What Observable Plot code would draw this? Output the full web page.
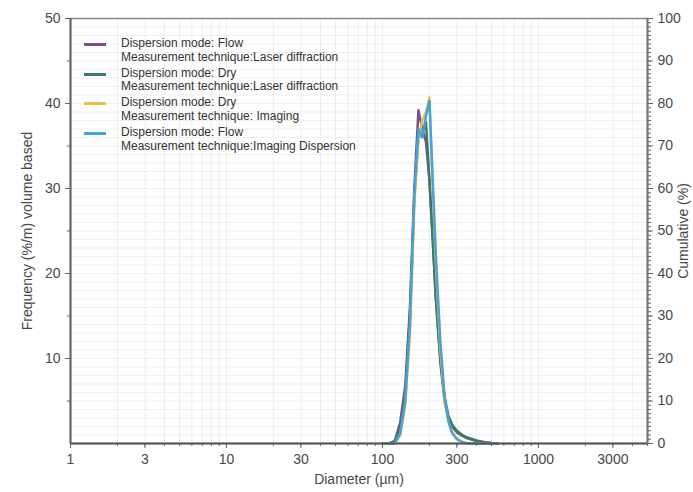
<!DOCTYPE html>
<html><head><meta charset="utf-8">
<script src="https://cdn.jsdelivr.net/npm/d3@7"></script>
<script src="https://cdn.jsdelivr.net/npm/@observablehq/plot@0.6"></script>
<style>
body{margin:0;background:#fff;font-family:"Liberation Sans",Arial,sans-serif;}
#wrap{position:relative;width:693px;height:492px;overflow:hidden}
#legend{position:absolute;left:84px;top:37px;font-size:12px;color:#333;line-height:13.8px}
.item{display:flex;align-items:flex-start;margin-bottom:2px}
.sw{width:22px;height:3px;margin-top:6px;margin-right:15px;flex:none}
</style></head><body><div id="wrap"><div id="legend"></div></div>
<script>
// ---- data ----
const diameters = [100,110,120,130,140,150,160,170,180,190,200,210,220,235,250,265,280,300,325,350,400,450,500,550];
const seriesNames = [
  ["Dispersion mode: Flow","Measurement technique:Laser diffraction"],
  ["Dispersion mode: Dry","Measurement technique:Laser diffraction"],
  ["Dispersion mode: Dry","Measurement technique: Imaging"],
  ["Dispersion mode: Flow","Measurement technique:Imaging Dispersion"]
];
const seriesColors = ["#7b4f86","#3e7868","#e6c24a","#46a3d6"];
const flowLaser   = [0,0,0.3,2.5,6.8,16,30,39.2,37,35.5,31,24,17,9.5,5,2.8,2,1.3,0.9,0.6,0.3,0.15,0.05,0];
const dryLaser    = [0,0,0.1,1.8,5.8,15,29,36,36.5,37.8,31,24,17,10,5.5,3.2,2.2,1.5,1,0.7,0.35,0.15,0.05,0];
const dryImaging  = [0,0,0,1,4.5,13,28,36,38,39,40.7,30,21,11,5,2.5,1.3,0.6,0.2,0,0,0,0,0];
const flowImaging = [0,0,0,1.2,5,14,29,37,36,38.5,40.3,31,22,12,5.5,2.6,1.2,0.5,0.15,0,0,0,0,0];
const xTickValues = [1,3,10,30,100,300,1000,3000];
const yTickValues = [10,20,30,40,50];
const cumTickValues = [0,10,20,30,40,50,60,70,80,90,100];

const allSeries = [flowLaser, dryLaser, dryImaging, flowImaging];
const rows = [];
allSeries.forEach((vals, si) => vals.forEach((v, i) => rows.push({d: diameters[i], f: v, s: si})));

const minorX = [];
for (let e = 0; e <= 3; e++) for (let k = 1; k <= 9; k++) { const v = k * 10 ** e; if (v <= 5000) minorX.push(v); }
minorX.push(5000);
const hGrid = d3.range(0, 50.01, 1);
const cumMinor = d3.range(0, 50.01, 0.5);

const axisColor = "#666";
const plot = Plot.plot({
  width: 693, height: 492,
  marginLeft: 70, marginRight: 46, marginTop: 18, marginBottom: 49,
  style: {fontFamily: "Liberation Sans, Arial, sans-serif", fontSize: "14px", color: "#484848", background: "#fff"},
  x: {type: "log", domain: [1, 5000]},
  y: {domain: [0, 50]},
  marks: [
    Plot.ruleY(hGrid, {stroke: "#efefef", strokeWidth: 1}),
    Plot.ruleX(minorX, {stroke: "#efefef", strokeWidth: 1}),
    Plot.frame({stroke: "#888", strokeWidth: 1.5}),
    Plot.line(rows, {x: "d", y: "f", z: "s", stroke: d => seriesColors[d.s], strokeWidth: 2.5, curve: "linear"}),
    Plot.axisX({ticks: xTickValues, tickFormat: d => String(d), tickSize: 5, stroke: axisColor, label: "Diameter (µm)", labelAnchor: "center", labelArrow: false, labelOffset: 40, tickPadding: 6}),
    Plot.axisX({ticks: minorX, tickFormat: () => "", tickSize: 3, stroke: axisColor, label: null}),
    Plot.ruleY([0], {stroke: "#555", strokeWidth: 2}),
    Plot.axisY({ticks: yTickValues, tickSize: 5, stroke: axisColor, label: "Frequency (%/m) volume based", labelAnchor: "center", labelArrow: false, labelOffset: 48, tickPadding: 5}),
    Plot.axisY({ticks: [5,15,25,35,45], tickFormat: () => "", tickSize: 3, stroke: axisColor, label: null}),
    Plot.axisY({anchor: "right", ticks: cumTickValues.map(v => v / 2), tickFormat: d => String(d * 2), tickSize: 5, stroke: axisColor, label: "Cumulative (%)", labelAnchor: "center", labelArrow: false, labelOffset: 40, tickPadding: 5}),
    Plot.axisY({anchor: "right", ticks: cumMinor, tickFormat: () => "", tickSize: 3, stroke: axisColor, label: null}),
    Plot.ruleX([1], {stroke: "#666", strokeWidth: 2}),
    Plot.ruleX([5000], {stroke: "#777", strokeWidth: 2})
  ]
});
document.getElementById("wrap").prepend(plot);

const leg = document.getElementById("legend");
seriesNames.forEach((lines, i) => {
  const it = document.createElement("div"); it.className = "item";
  const sw = document.createElement("div"); sw.className = "sw"; sw.style.background = seriesColors[i];
  const tx = document.createElement("div"); tx.innerHTML = lines.join("<br>");
  it.append(sw, tx); leg.append(it);
});
</script></body></html>
